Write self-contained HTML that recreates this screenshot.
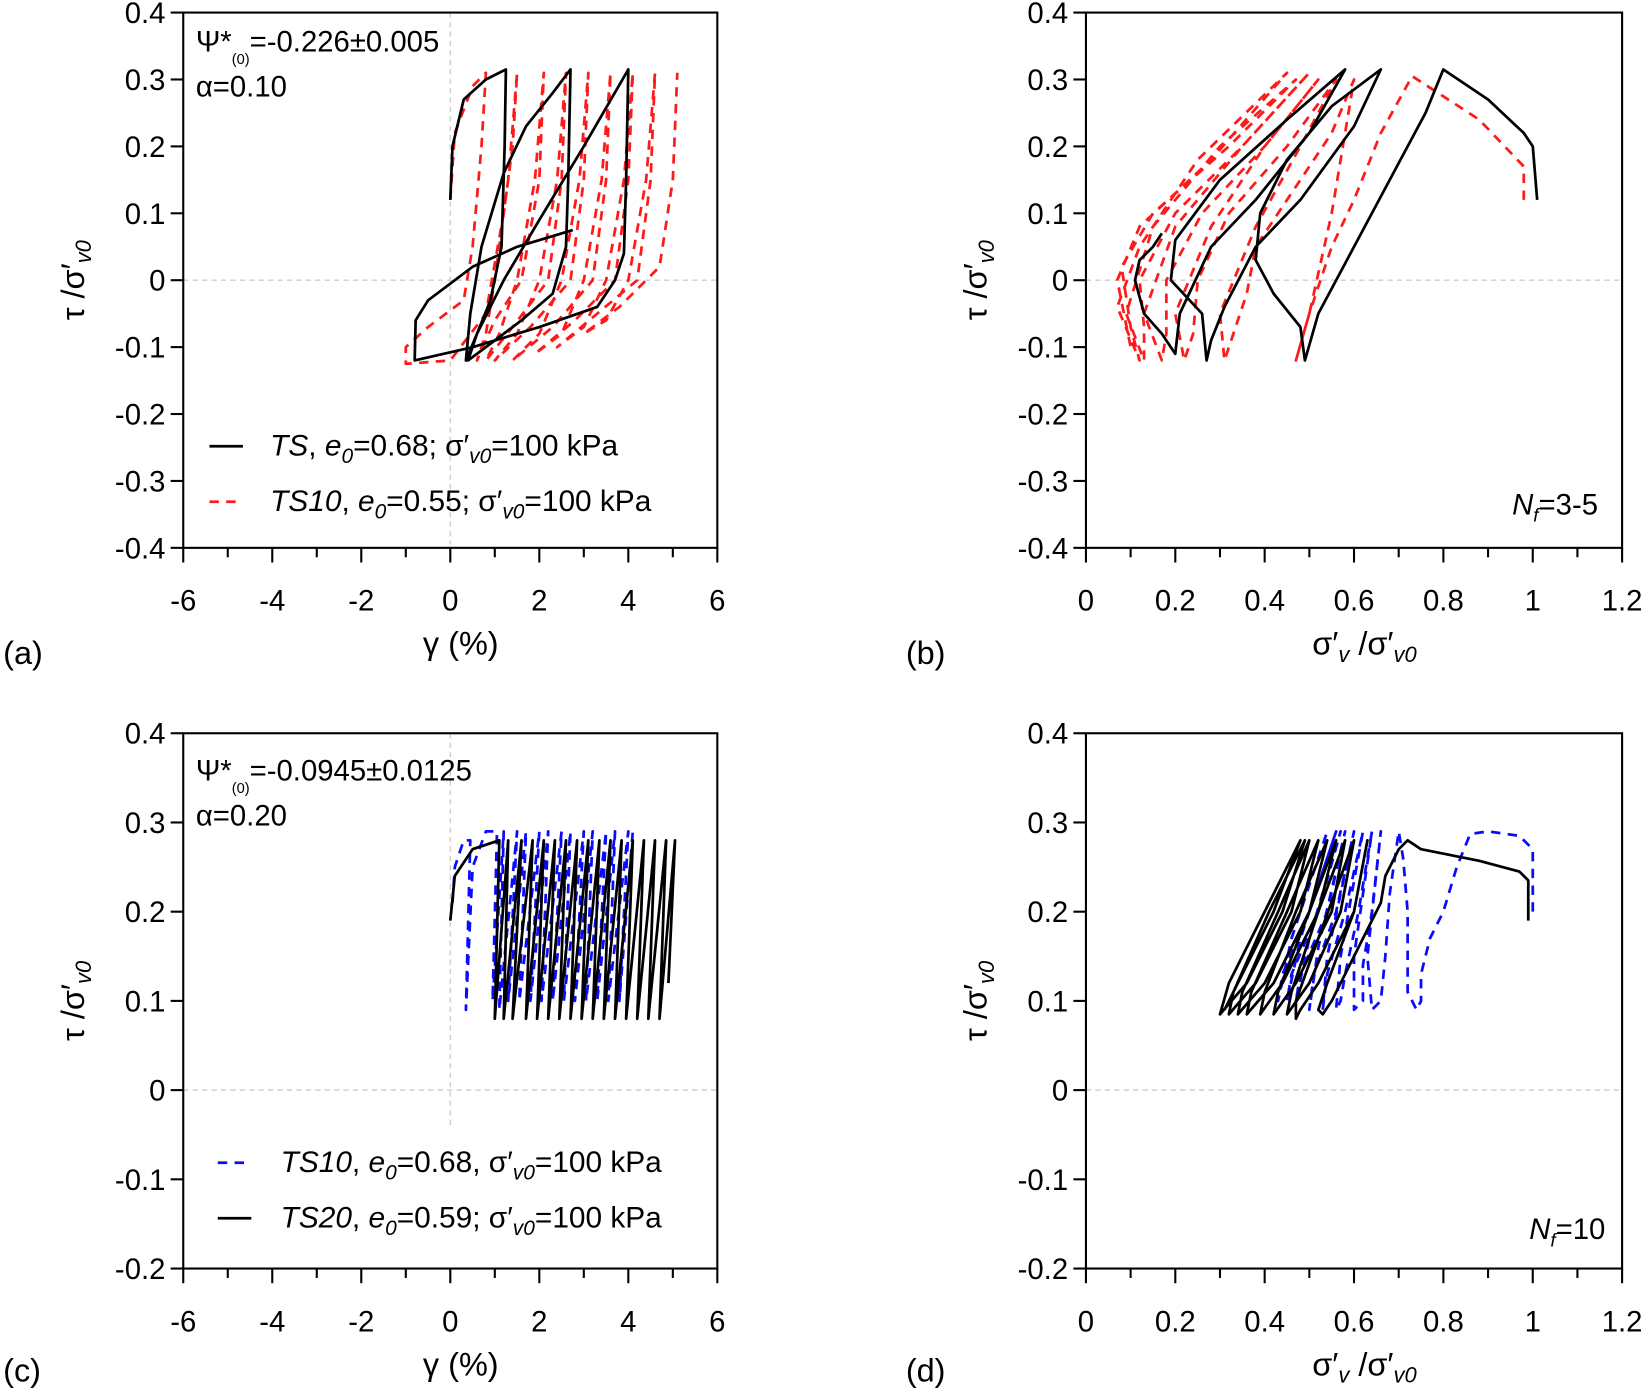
<!DOCTYPE html>
<html><head><meta charset="utf-8"><style>
html,body{margin:0;padding:0;background:#fff}
svg{display:block}
text{font-family:"Liberation Sans",sans-serif;fill:#000}
</style></head><body>
<svg id="fig" width="1642" height="1389" viewBox="0 0 1568 1326" preserveAspectRatio="none" xmlns="http://www.w3.org/2000/svg">
<g id="root"></g>
</svg>
<script>
// ---- data (panel a: gamma %, tau/sigma) ----
const aBlackTS = [[0,0.12],[0.05,0.2],[0.3,0.27],[0.8,0.3],[1.25,0.315],[1.22,0.2],[1.15,0.05],[0.9,-0.03],[0.6,-0.08],[0.35,-0.12],[0.45,-0.05],[0.7,0.05],[1.2,0.16],[1.7,0.23],[2.3,0.28],[2.7,0.315],[2.65,0.15],[2.6,0.05],[2.3,-0.02],[1.6,-0.06],[0.8,-0.1],[0.4,-0.12],[0.6,-0.08],[1.2,0.0],[2.0,0.09],[3.0,0.2],[4.0,0.315],[3.95,0.15],[3.9,0.04],[3.7,0.0],[3.3,-0.04],[2.0,-0.07],[0.5,-0.1],[-0.8,-0.12],[-0.78,-0.06],[-0.5,-0.03],[0.5,0.02],[1.5,0.05],[2.75,0.075]];
const aRedTS10 = [[0,0.12],[0.1,0.22],[0.5,0.29],[0.8,0.31],[0.7,0.2],[0.5,0.05],[0.3,-0.03],[-0.5,-0.07],[-1.0,-0.1],[-1.0,-0.125],[0.0,-0.12],[0.8,-0.05],[1.2,0.1],[1.4,0.2],[1.5,0.31],[1.3,0.15],[1.0,0.0],[0.8,-0.08],[0.6,-0.12],[1.0,-0.06],[1.6,0.0],[2.0,0.15],[2.1,0.31],[1.9,0.15],[1.5,0.0],[1.1,-0.08],[0.8,-0.12],[1.4,-0.07],[2.2,0.0],[2.5,0.15],[2.6,0.31],[2.4,0.15],[2.0,0.0],[1.5,-0.08],[1.0,-0.12],[1.8,-0.07],[2.7,0.0],[3.0,0.15],[3.1,0.31],[2.9,0.15],[2.5,0.0],[2.0,-0.08],[1.4,-0.12],[2.3,-0.07],[3.2,0.0],[3.5,0.15],[3.6,0.31],[3.4,0.15],[3.0,0.0],[2.5,-0.08],[1.9,-0.11],[2.8,-0.06],[3.7,0.0],[4.0,0.15],[4.1,0.31],[3.9,0.15],[3.5,0.0],[3.0,-0.07],[2.4,-0.1],[3.3,-0.05],[4.2,0.0],[4.5,0.15],[4.6,0.31],[4.4,0.15],[4.0,0.0],[3.5,-0.06],[3.0,-0.08],[3.8,-0.04],[4.7,0.02],[5.0,0.15],[5.1,0.31]];
// ---- panel b: sigma'/sigma'0, tau ----
const bRedTS10 = [[0.98,0.12],[0.98,0.17],[0.88,0.24],[0.73,0.305],[0.66,0.22],[0.6,0.12],[0.55,0.05],[0.5,-0.05],[0.47,-0.12],[0.5,-0.05],[0.55,0.1],[0.6,0.3],[0.55,0.22],[0.45,0.12],[0.38,0.05],[0.36,-0.02],[0.33,-0.08],[0.31,-0.12],[0.3,-0.05],[0.38,0.08],[0.48,0.2],[0.56,0.3],[0.45,0.2],[0.32,0.1],[0.25,0.0],[0.24,-0.08],[0.22,-0.12],[0.2,-0.05],[0.28,0.08],[0.4,0.2],[0.52,0.3],[0.4,0.2],[0.26,0.1],[0.18,0.0],[0.18,-0.08],[0.17,-0.12],[0.13,-0.05],[0.2,0.08],[0.35,0.2],[0.5,0.31],[0.35,0.2],[0.2,0.1],[0.12,0.0],[0.13,-0.07],[0.13,-0.12],[0.09,-0.05],[0.15,0.08],[0.3,0.2],[0.47,0.3],[0.32,0.2],[0.15,0.1],[0.08,0.02],[0.1,-0.07],[0.12,-0.12],[0.07,-0.04],[0.12,0.05],[0.25,0.18],[0.45,0.31],[0.28,0.18],[0.12,0.08],[0.07,0.0],[0.1,-0.1]];
const bBlackTS = [[1.01,0.12],[1.0,0.2],[0.98,0.22],[0.9,0.27],[0.8,0.315],[0.76,0.25],[0.68,0.15],[0.6,0.05],[0.52,-0.05],[0.49,-0.12],[0.48,-0.07],[0.42,-0.02],[0.38,0.03],[0.39,0.1],[0.45,0.18],[0.55,0.26],[0.66,0.315],[0.6,0.23],[0.48,0.12],[0.38,0.05],[0.31,-0.04],[0.28,-0.09],[0.27,-0.12],[0.26,-0.05],[0.19,0.0],[0.2,0.06],[0.3,0.15],[0.45,0.24],[0.58,0.315],[0.5,0.22],[0.38,0.12],[0.28,0.05],[0.21,-0.05],[0.2,-0.11],[0.17,-0.08],[0.13,-0.05],[0.11,0.0],[0.12,0.03],[0.15,0.05],[0.17,0.07]];
// ---- panel c ----
const cBlueTS10 = [[0.05,0.21],[0.1,0.25],[0.3,0.28],[0.45,0.28],[0.35,0.09],[0.5,0.25],[0.8,0.29],[1.05,0.29],[0.95,0.1],[1.2,0.29],[1.1,0.09],[1.5,0.29],[1.3,0.1],[1.7,0.29],[1.55,0.1],[2.0,0.29],[1.8,0.1],[2.2,0.29],[2.05,0.1],[2.5,0.29],[2.3,0.1],[2.7,0.29],[2.55,0.1],[3.0,0.29],[2.8,0.1],[3.2,0.29],[3.05,0.1],[3.5,0.29],[3.3,0.1],[3.7,0.29],[3.55,0.1],[4.0,0.29],[3.8,0.1],[4.1,0.29]];
const cBlackTS20 = [[0,0.19],[0.1,0.24],[0.5,0.27],[1.1,0.28],[1.0,0.08],[1.3,0.28],[1.2,0.08],[1.6,0.28],[1.4,0.08],[1.85,0.28],[1.7,0.08],[2.1,0.28],[1.95,0.08],[2.35,0.28],[2.2,0.08],[2.6,0.28],[2.45,0.08],[2.85,0.28],[2.7,0.08],[3.1,0.28],[2.95,0.08],[3.35,0.28],[3.2,0.08],[3.6,0.28],[3.45,0.08],[3.85,0.28],[3.7,0.08],[4.1,0.28],[3.95,0.08],[4.35,0.28],[4.2,0.08],[4.6,0.28],[4.45,0.08],[4.85,0.28],[4.7,0.08],[5.05,0.28],[4.9,0.12]];
// ---- panel d ----
const dBlueTS10 = [[1.0,0.2],[1.0,0.27],[0.97,0.285],[0.9,0.29],[0.86,0.287],[0.83,0.25],[0.8,0.2],[0.77,0.17],[0.75,0.13],[0.75,0.1],[0.74,0.09],[0.72,0.11],[0.72,0.2],[0.71,0.26],[0.7,0.29],[0.68,0.22],[0.67,0.15],[0.66,0.1],[0.64,0.09],[0.63,0.15],[0.66,0.29],[0.64,0.2],[0.62,0.14],[0.62,0.1],[0.6,0.09],[0.6,0.15],[0.64,0.29],[0.61,0.2],[0.58,0.13],[0.57,0.1],[0.56,0.09],[0.57,0.15],[0.62,0.29],[0.58,0.2],[0.54,0.13],[0.53,0.09],[0.54,0.15],[0.6,0.29],[0.56,0.2],[0.51,0.13],[0.5,0.09],[0.52,0.16],[0.58,0.29],[0.54,0.2],[0.48,0.13],[0.47,0.1],[0.5,0.17],[0.57,0.29],[0.52,0.2],[0.46,0.13],[0.45,0.1],[0.48,0.17],[0.56,0.29],[0.5,0.2],[0.44,0.13],[0.43,0.1],[0.46,0.17],[0.54,0.29]];
const dBlackTS20 = [[0.99,0.19],[0.99,0.235],[0.97,0.245],[0.88,0.257],[0.75,0.27],[0.72,0.28],[0.7,0.27],[0.67,0.24],[0.66,0.21],[0.62,0.17],[0.58,0.13],[0.55,0.1],[0.53,0.085],[0.52,0.09],[0.54,0.12],[0.6,0.2],[0.63,0.28],[0.6,0.2],[0.52,0.12],[0.48,0.09],[0.47,0.08],[0.47,0.1],[0.52,0.17],[0.6,0.28],[0.57,0.2],[0.5,0.12],[0.45,0.085],[0.46,0.11],[0.52,0.2],[0.58,0.28],[0.55,0.2],[0.47,0.12],[0.42,0.085],[0.43,0.11],[0.5,0.2],[0.56,0.28],[0.52,0.2],[0.44,0.12],[0.39,0.085],[0.4,0.11],[0.47,0.2],[0.54,0.28],[0.5,0.2],[0.42,0.12],[0.36,0.085],[0.37,0.11],[0.45,0.2],[0.52,0.28],[0.48,0.2],[0.4,0.12],[0.34,0.085],[0.35,0.11],[0.43,0.2],[0.5,0.28],[0.46,0.2],[0.38,0.12],[0.32,0.085],[0.33,0.11],[0.41,0.2],[0.49,0.28],[0.44,0.2],[0.36,0.12],[0.3,0.085],[0.32,0.12],[0.4,0.2],[0.48,0.28],[0.42,0.2],[0.35,0.13],[0.31,0.09]];
// ticks
const gammaTicks = [-6,-4,-2,0,2,4,6];
const sigTicks = [0,0.2,0.4,0.6,0.8,1,1.2];
const tauTicksAB = [0.4,0.3,0.2,0.1,0,-0.1,-0.2,-0.3,-0.4];
const tauTicksCD = [0.4,0.3,0.2,0.1,0,-0.1,-0.2];

const NS='http://www.w3.org/2000/svg';
const root=document.getElementById('root');
function mk(tag,attrs,parent){const e=document.createElementNS(NS,tag);for(const k in attrs)e.setAttribute(k,attrs[k]);(parent||root).appendChild(e);return e;}

function panel(id,L,R,T,B,xmin,xmax,ymin,ymax,xt,yt,xMinor,vGrid,vGridEnd,xlabelHTML){
  const g=mk('g',{});
  
  
  const sx=v=>L+(v-xmin)/(xmax-xmin)*(R-L);
  const sy=v=>B-(v-ymin)/(ymax-ymin)*(B-T);
  const hz=mk('line',{x1:L,x2:R,y1:sy(0),y2:sy(0),stroke:'#ccc','stroke-width':1.3,'stroke-dasharray':'5,4'},g);
  
  
  if(vGrid){const vz=mk('line',{x1:sx(0),x2:sx(0),y1:T,y2:vGridEnd,stroke:'#ccc','stroke-width':1.3,'stroke-dasharray':'5,4'},g);
    
    }
  const fr=mk('rect',{x:L,y:T,width:R-L,height:B-T,fill:'none',stroke:'#000','stroke-width':2},g);
  
  
  const xa=mk('g',{},g);
  
  
  xt.forEach(v=>{mk('line',{x1:sx(v),x2:sx(v),y1:B,y2:B+14,stroke:'#000','stroke-width':2},xa);
    const t=mk('text',{x:sx(v),y:B+60,'text-anchor':'middle','font-size':28},xa);t.textContent=String(v);
    
    });
  for(let i=0;i<xt.length-1;i++){const m=(xt[i]+xt[i+1])/2;mk('line',{x1:sx(m),x2:sx(m),y1:B,y2:B+9,stroke:'#000','stroke-width':2},xa);}
  const ya=mk('g',{},g);
  
  
  yt.forEach(v=>{mk('line',{x1:L-12,x2:L,y1:sy(v),y2:sy(v),stroke:'#000','stroke-width':2},ya);
    const t=mk('text',{x:L-17,y:sy(v)+10,'text-anchor':'end','font-size':28},ya);t.textContent=String(v);
    
    });
  const yl=mk('text',{transform:`translate(${L-95},${(T+B)/2}) rotate(-90)`,'text-anchor':'middle','font-size':31},g);
  yl.innerHTML='τ /σ\u2032<tspan font-style="italic" font-size="21" dy="7">v0</tspan>';
  
  
  const xl=mk('text',{x:(L+R)/2+10,y:B+102,'text-anchor':'middle','font-size':31},g);
  xl.innerHTML=xlabelHTML;
  
  
  return {g,sx,sy};
}
function series(p,data,color,dash,name){
  const d=data.map((pt,i)=>(i?'L':'M')+p.sx(pt[0]).toFixed(1)+','+p.sy(pt[1]).toFixed(1)).join('');
  const a={d,fill:'none',stroke:color,'stroke-width':2.6,'stroke-linejoin':'round'};
  if(dash)a['stroke-dasharray']='9,7';
  const e=mk('path',a,p.g);
  
  
}
function txt(parent,x,y,html,size,name,anchor){const t=mk('text',{x,y,'font-size':size,'text-anchor':anchor||'start'},parent);t.innerHTML=html;
  
  return t;}
function legLine(parent,x1,x2,y,color,dash,name){const a={x1,x2,y1:y,y2:y,stroke:color,'stroke-width':2.6};if(dash)a['stroke-dasharray']='9,7';const l=mk('line',a,parent);
  
  }

const xgam='γ (%)';
const xsig='σ\u2032<tspan font-style="italic" font-size="21" dy="7">v</tspan><tspan dy="-7"> /σ\u2032</tspan><tspan font-style="italic" font-size="21" dy="7">v0</tspan>';
const sub='<tspan font-style="italic" font-size="20" dy="7">';

const pa=panel('a',175,685,12,523,-6,6,-0.4,0.4,gammaTicks,tauTicksAB,true,true,520,xgam);
series(pa,aRedTS10,'#ff1a1a',true,'series-ts10-red');
series(pa,aBlackTS,'#000',false,'series-ts-black');
txt(pa.g,187,49,'Ψ*<tspan font-size="14" dy="12">(0)</tspan><tspan dy="-12">=-0.226±0.005</tspan>',28,'psi-annotation');
txt(pa.g,187,92,'α=0.10',28,'alpha-annotation');
legLine(pa.g,200,232,426,'#000',false,'legend-line-ts');
txt(pa.g,258,435,'<tspan font-style="italic">TS</tspan>, <tspan font-style="italic">e</tspan>'+sub+'0</tspan><tspan dy="-7">=0.68; σ\u2032</tspan>'+sub+'v0</tspan><tspan dy="-7">=100 kPa</tspan>',28.5,'legend-entry-ts');
legLine(pa.g,200,232,479,'#ff1a1a',true,'legend-line-ts10');
txt(pa.g,258,488,'<tspan font-style="italic">TS10</tspan>, <tspan font-style="italic">e</tspan>'+sub+'0</tspan><tspan dy="-7">=0.55; σ\u2032</tspan>'+sub+'v0</tspan><tspan dy="-7">=100 kPa</tspan>',28.5,'legend-entry-ts10');

const pb=panel('b',1037,1549,12,523,0,1.2,-0.4,0.4,sigTicks,tauTicksAB,true,false,0,xsig);
series(pb,bRedTS10,'#ff1a1a',true,'series-ts10-red');
series(pb,bBlackTS,'#000',false,'series-ts-black');
txt(pb.g,1526,491,'<tspan font-style="italic">N</tspan><tspan font-style="italic" font-size="18" dy="7">f</tspan><tspan dy="-7">=3-5</tspan>',28,'nf-annotation','end');

const pc=panel('c',175,685,700,1211,-6,6,-0.2,0.4,gammaTicks,tauTicksCD,true,true,1075,xgam);
series(pc,cBlueTS10,'#0a0aff',true,'series-ts10-blue');
series(pc,cBlackTS20,'#000',false,'series-ts20-black');
txt(pc.g,187,745,'Ψ*<tspan font-size="14" dy="12">(0)</tspan><tspan dy="-12">=-0.0945±0.0125</tspan>',28,'psi-annotation');
txt(pc.g,187,788,'α=0.20',28,'alpha-annotation');
legLine(pc.g,208,240,1110,'#0a0aff',true,'legend-line-ts10');
txt(pc.g,268,1119,'<tspan font-style="italic">TS10</tspan>, <tspan font-style="italic">e</tspan>'+sub+'0</tspan><tspan dy="-7">=0.68, σ\u2032</tspan>'+sub+'v0</tspan><tspan dy="-7">=100 kPa</tspan>',28.5,'legend-entry-ts10');
legLine(pc.g,208,240,1163,'#000',false,'legend-line-ts20');
txt(pc.g,268,1172,'<tspan font-style="italic">TS20</tspan>, <tspan font-style="italic">e</tspan>'+sub+'0</tspan><tspan dy="-7">=0.59; σ\u2032</tspan>'+sub+'v0</tspan><tspan dy="-7">=100 kPa</tspan>',28.5,'legend-entry-ts20');

const pd=panel('d',1037,1549,700,1211,0,1.2,-0.2,0.4,sigTicks,tauTicksCD,true,false,0,xsig);
series(pd,dBlueTS10,'#0a0aff',true,'series-ts10-blue');
series(pd,dBlackTS20,'#000',false,'series-ts20-black');
txt(pd.g,1533,1183,'<tspan font-style="italic">N</tspan><tspan font-style="italic" font-size="18" dy="7">f</tspan><tspan dy="-7">=10</tspan>',28,'nf-annotation','end');

txt(root,3,634,'(a)',31,'panel-label-a');
txt(root,865,634,'(b)',31,'panel-label-b');
txt(root,3,1319,'(c)',31,'panel-label-c');
txt(root,865,1319,'(d)',31,'panel-label-d');
</script>
</body></html>
